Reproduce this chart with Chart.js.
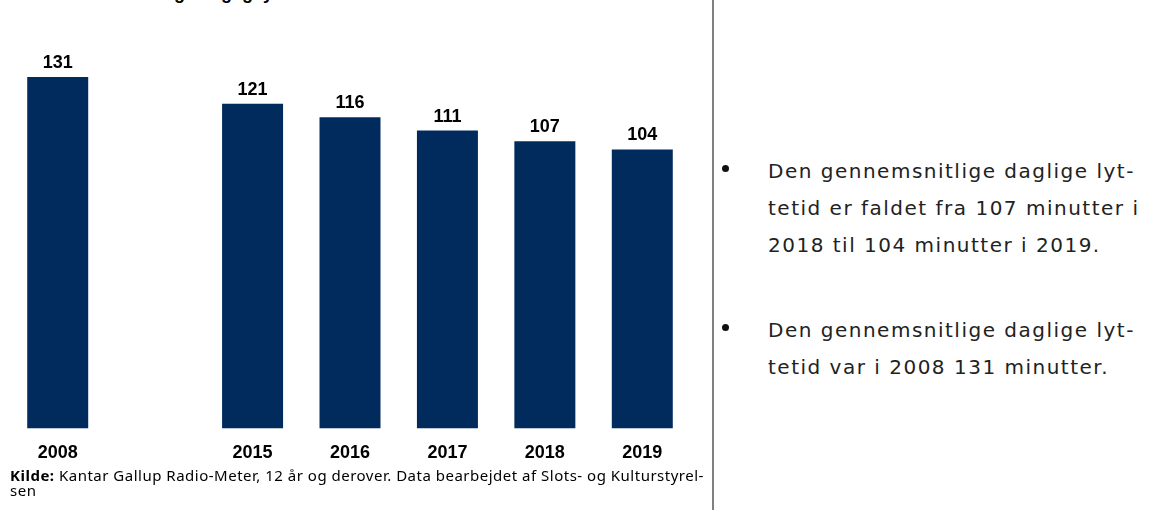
<!DOCTYPE html>
<html>
<head>
<meta charset="utf-8">
<script src="https://cdn.jsdelivr.net/npm/chart.js@4"></script>
<style>
  body { margin: 0; background: #fff; width: 1149px; height: 510px; overflow: hidden; position: relative; font-family: "DejaVu Sans", sans-serif; }
  #title { position: absolute; left: 104px; top: -17px; font: bold 18px "Liberation Sans", sans-serif; color: #000; white-space: nowrap; }
  #wrap { position: absolute; left: 0; top: 0; width: 700px; height: 470px; }
  #divider { position: absolute; left: 712px; top: 0; width: 2px; height: 510px; background: #808080; }
  #source { position: absolute; left: 10px; top: 468px; width: 710px; font-family: "Noto Sans", sans-serif; font-size: 15px; letter-spacing: 0.5px; line-height: 15px; color: #000; white-space: nowrap; }
  #notes { position: absolute; left: 722px; top: 153px; width: 427px; font-size: 20px; line-height: 37px; color: #222; letter-spacing: 1.5px; white-space: nowrap; }
  .item { position: relative; padding-left: 46px; }
  .item::before { content: ""; position: absolute; left: 0; top: 12px; width: 7px; height: 7px; border-radius: 50%; background: #111; }
  .gap { height: 48px; }
</style>
</head>
<body>
<div id="title">Udvikling i daglig lyttetid</div>
<div id="wrap"><canvas id="lytteChart"></canvas></div>
<div id="divider"></div>
<div id="source"><b>Kilde:</b> Kantar Gallup Radio-Meter, 12 år og derover. Data bearbejdet af Slots- og Kulturstyrel-<br>sen</div>
<div id="notes">
  <div class="item">Den gennemsnitlige daglige lyt-<br>tetid er faldet fra 107 minutter i<br>2018 til 104 minutter i 2019.</div>
  <div class="gap"></div>
  <div class="item">Den gennemsnitlige daglige lyt-<br>tetid var i 2008 131 minutter.</div>
</div>
<script>
// years on the x axis, empty slot marks the gap between 2008 and 2015
var years = ["2008", "", "2015", "2016", "2017", "2018", "2019"];
var minutter = [131, null, 121, 116, 111, 107, 104];

// draws the value above each bar
var valueLabels = {
  id: "valueLabels",
  afterDatasetsDraw: function (chart) {
    var ctx = chart.ctx;
    var meta = chart.getDatasetMeta(0);
    ctx.save();
    ctx.font = "bold 18px 'Liberation Sans', sans-serif";
    ctx.fillStyle = "#000";
    ctx.textAlign = "center";
    ctx.textBaseline = "bottom";
    meta.data.forEach(function (bar, i) {
      if (minutter[i] == null) return;
      ctx.fillText(minutter[i], bar.x, bar.y - 5);
    });
    ctx.restore();
  },
};

var ctx = document.getElementById("lytteChart").getContext("2d");
var lytteChart = new Chart(ctx, {
  type: "bar",
  data: {
    labels: years,
    datasets: [
      {
        label: "Minutter",
        data: minutter,
        backgroundColor: "#002b5c",
        categoryPercentage: 1,
        barPercentage: 0.626,
      },
    ],
  },
  options: {
    responsive: true,
    maintainAspectRatio: false,
    animation: false,
    layout: { padding: { left: 9, right: 9, top: 26, bottom: 0 } },
    plugins: {
      legend: { display: false },
      tooltip: { enabled: false },
    },
    scales: {
      x: {
        grid: { display: false },
        border: { display: false },
        ticks: {
          color: "#000",
          padding: 6,
          font: { family: "'Liberation Sans', sans-serif", size: 18, weight: "bold" },
        },
      },
      y: {
        display: false,
        min: 0,
        max: 150,
      },
    },
  },
  plugins: [valueLabels],
});
</script>
</body>
</html>
